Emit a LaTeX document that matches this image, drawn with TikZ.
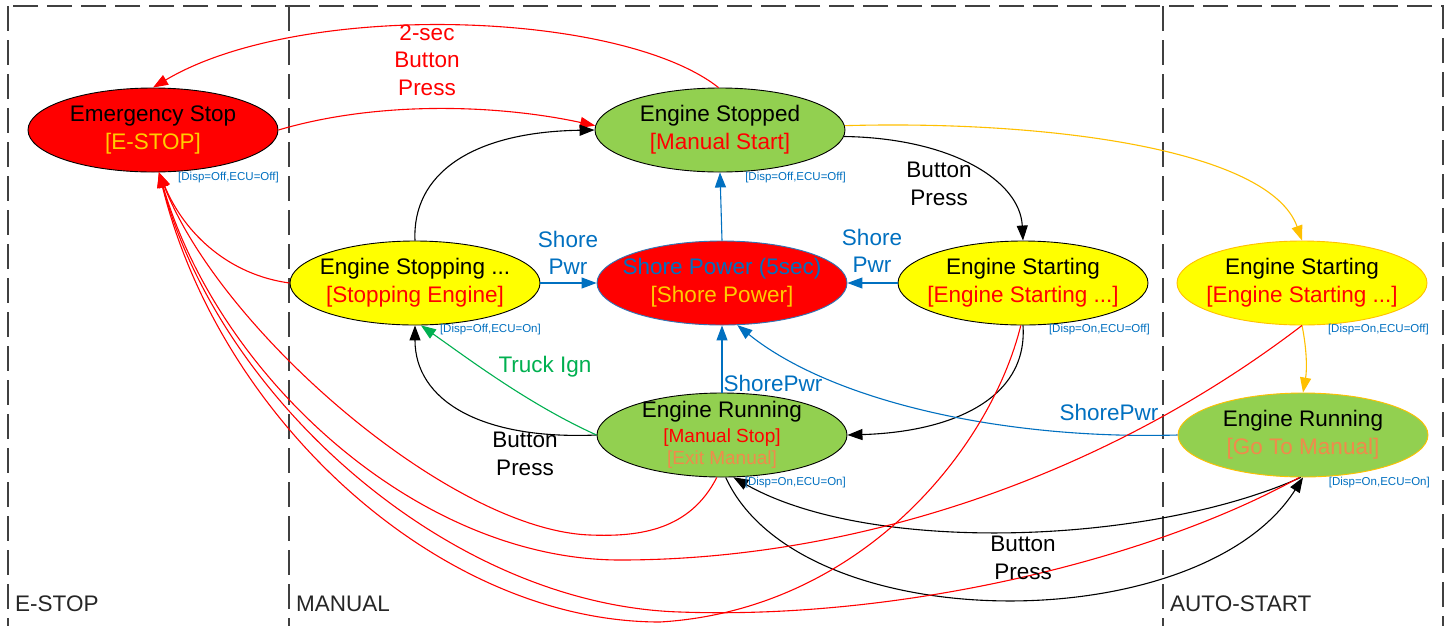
\documentclass[tikz,border=0pt]{standalone}
\usepackage{fontspec}
\setmainfont{Liberation Sans}
\usetikzlibrary{shapes.geometric,arrows.meta}
\definecolor{cgreen}{HTML}{92D050}
\definecolor{cyellow}{HTML}{FFFF00}
\definecolor{cred}{HTML}{FF0000}
\definecolor{cblue}{HTML}{0070C0}
\definecolor{corange}{HTML}{FFC000}
\definecolor{ctorange}{HTML}{F08A4B}
\definecolor{cgold}{HTML}{FFCC00}
\definecolor{ctgreen}{HTML}{00B050}
\definecolor{cframe}{HTML}{404040}
\definecolor{cshore}{HTML}{2E75B6}
\begin{document}
\begin{tikzpicture}[x=1pt,y=-1pt,
  st/.style={ellipse,draw=black,line width=0.9pt,minimum width=250pt,minimum height=84pt,inner sep=0pt},
  txt/.style={font=\fontsize{22.5}{28}\selectfont,align=center,inner sep=0pt},
  info/.style={font=\fontsize{11.5}{13}\selectfont,text=cblue,inner sep=0pt,anchor=east},
  mode/.style={font=\fontsize{22.5}{28}\selectfont,text=black!85,anchor=west,inner sep=0pt},
  lbl/.style={font=\fontsize{22.5}{27.5}\selectfont,align=center,inner sep=0pt},
  tr/.style={line width=1.1pt},
  tip/.style={-{Triangle[length=15pt,width=11pt]}},
  frame/.style={draw=cframe,line width=1.8pt,dash pattern=on 25pt off 9pt},
]
\useasboundingbox (0,0) rectangle (1449,625);
\clip (0,0) rectangle (1449,625);
\fill[white] (0,0) rectangle (1449,625);

% frame
\draw[frame] (8,6) rectangle (1443,660);
\draw[frame] (289,6) -- (289,660);
\draw[frame] (1163,6) -- (1163,660);
\node[mode] (m1) at (15,604) {E-STOP};
\node[mode] (m2) at (296,604) {MANUAL};
\node[mode] (m3) at (1170,604) {AUTO-START};

% states
\node[st,fill=cred] (es) at (153,130) {};
\node[st,fill=cgreen] (stopped) at (720,130) {};
\node[st,fill=cyellow] (stopping) at (415,283) {};
\node[st,fill=cred,draw=cshore] (shore) at (722,283) {};
\node[st,fill=cyellow] (startm) at (1023,283) {};
\node[st,fill=cyellow,draw=corange] (starta) at (1302,283) {};
\node[st,fill=cgreen] (runm) at (722,435) {};
\node[st,fill=cgreen,draw=corange] (runa) at (1303,435) {};

% connectors
\draw[tr,cred,tip] (stopped.92) .. controls (620,10) and (300,0) .. (es.north);
\draw[tr,cred,tip] (es.east) .. controls (380,100) and (500,105) .. (stopped.178);
\draw[tr,tip] (stopping.north) .. controls (412,175) and (470,132) .. (stopped.west);
\draw[tr,tip] (stopped.-3) .. controls (950,138) and (1020,180) .. (startm.north);
\draw[tr,corange,tip] (stopped.2) .. controls (1050,120) and (1270,150) .. (starta.north);
\draw[tr,tip] (startm.south) .. controls (1028,400) and (950,432) .. (runm.east);
\draw[tr,tip] (runm.west) .. controls (480,440) and (415,400) .. (stopping.south);
\draw[tr,ctgreen,tip] (runm.west) .. controls (530,405) and (470,360) .. (stopping.-82);
\draw[tr,cblue,tip] (stopping.east) -- (shore.west);
\draw[tr,cblue,tip] (startm.west) -- (shore.east);
\draw[tr,cblue,tip] (shore.north) -- (stopped.south);
\draw[tr,cblue,tip] (runm.north) -- (shore.south);
\draw[tr,cblue,tip] (runa.west) .. controls (1000,440) and (830,400) .. (shore.-70);
\draw[tr,corange,tip] (starta.south) .. controls (1307,350) and (1307,370) .. (runa.north);
\draw[tr,tip] (runa.-93) .. controls (1150,545) and (870,555) .. (runm.-75);
\draw[tr,tip] (runm.-85) .. controls (800,640) and (1200,640) .. (runa.-90);
% red to E-STOP
\draw[tr,cred,tip] (stopping.west) .. controls (230,275) and (185,235) .. (es.-82);
\draw[tr,cred,tip] (runm.-97) .. controls (690,530) and (640,537) .. (590,535) .. controls (450,530) and (220,330) .. (es.-82);
\draw[tr,cred,tip] (starta.south) .. controls (1100,480) and (850,560) .. (620,560) .. controls (420,560) and (220,380) .. (es.-82);
\draw[tr,cred,tip] (runa.-95) .. controls (1150,560) and (900,620) .. (680,612) .. controls (450,605) and (220,400) .. (es.-82);
\draw[tr,cred,tip] (startm.-93) .. controls (990,450) and (860,610) .. (660,622) .. controls (440,622) and (220,420) .. (es.-82);

% state texts
\node[txt] (es-t) at (es.center) {Emergency Stop\\\textcolor{cgold}{[E-STOP]}};
\node[txt] (stopped-t) at (stopped.center) {Engine Stopped\\\textcolor{cred}{[Manual Start]}};
\node[txt] (stopping-t) at (stopping.center) {Engine Stopping ...\\\textcolor{cred}{[Stopping Engine]}};
\node[txt] (shore-t) at (shore.center) {\textcolor{cblue}{Shore Power (5sec)}\\\textcolor{cgold}{[Shore Power]}};
\node[txt] (startm-t) at (startm.center) {Engine Starting\\\textcolor{cred}{[Engine Starting ...]}};
\node[txt] (starta-t) at (starta.center) {Engine Starting\\\textcolor{cred}{[Engine Starting ...]}};
\node[txt] (runm-t) at (runm.center) {Engine Running\\[-3pt]{\fontsize{19}{23}\selectfont\textcolor{cred}{[Manual Stop]}}\\[-6pt]{\fontsize{19}{23}\selectfont\textcolor{ctorange}{[Exit Manual]}}};
\node[txt] (runa-t) at (runa.center) {Engine Running\\\textcolor{ctorange}{[Go To Manual]}};

% info labels
\node[info] (es-i) at (279,178) {[Disp=Off,ECU=Off]};
\node[info] (stopped-i) at (846,178) {[Disp=Off,ECU=Off]};
\node[info] (stopping-i) at (541,330) {[Disp=Off,ECU=On]};
\node[info] (startm-i) at (1150,330) {[Disp=On,ECU=Off]};
\node[info] (starta-i) at (1429,330) {[Disp=On,ECU=Off]};
\node[info] (runm-i) at (846,483) {[Disp=On,ECU=On]};
\node[info] (runa-i) at (1430,483) {[Disp=On,ECU=On]};

% transition labels
\node[lbl,text=cred] (l1) at (427,60) {2-sec\\Button\\Press};
\node[lbl,text=cblue] (l2) at (568,253) {Shore\\Pwr};
\node[lbl,text=cblue] (l3) at (872,251) {Shore\\Pwr};
\node[lbl] (l4) at (939,184) {Button\\Press};
\node[lbl] (l5) at (525,454) {Button\\Press};
\node[lbl] (l6) at (1023,558) {Button\\Press};
\node[lbl,text=ctgreen] (l7) at (545,367) {Truck Ign};
\node[lbl,text=cblue] (l8) at (773,383) {ShorePwr};
\node[lbl,text=cblue] (l9) at (1109,412) {ShorePwr};
\end{tikzpicture}
\end{document}
